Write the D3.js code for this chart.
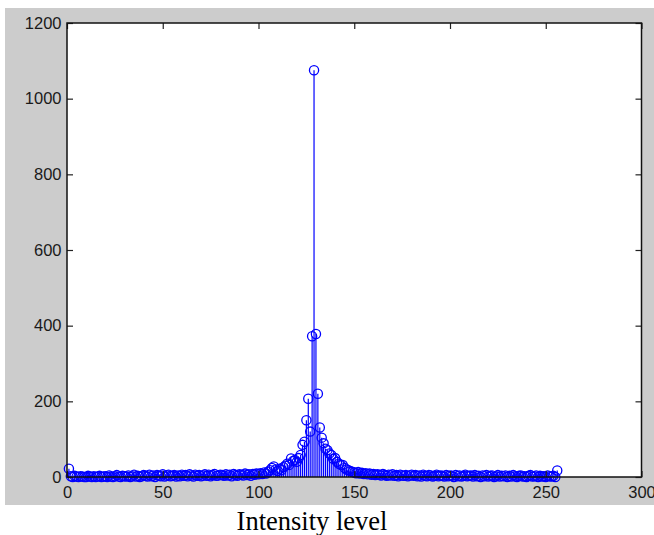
<!DOCTYPE html>
<html>
<head>
<meta charset="utf-8">
<script src="https://cdn.jsdelivr.net/npm/d3@7"></script>
<style>
  html, body { margin: 0; padding: 0; background: #ffffff; }
  svg { display: block; }
</style>
</head>
<body>
<svg id="chart" width="654" height="535"></svg>
<script>
// ---- data ----
const xTicks = [0, 50, 100, 150, 200, 250, 300];
const yTicks = [0, 200, 400, 600, 800, 1000, 1200];
const xLabel = "Intensity level";
// histogram counts for intensity levels 1..256
const countsLow = [ // 1..100
  22, 2, 0, 3, 1, 0, 2, 1, 0, 0, 3, 1, 0, 2, 0, 1, 3, 0, 1, 2,
  0, 4, 1, 0, 2, 5, 1, 0, 3, 2, 1, 4, 0, 2, 6, 1, 3, 0, 2, 5,
  3, 1, 6, 2, 4, 0, 5, 3, 2, 7, 1, 4, 6, 2, 3, 5, 1, 4, 2, 6,
  3, 5, 2, 7, 4, 1, 6, 3, 5, 2, 4, 7, 3, 6, 2, 5, 8, 3, 4, 6,
  5, 3, 7, 4, 6, 2, 8, 5, 3, 7, 6, 4, 9, 5, 7, 3, 8, 6, 9, 7
];
const countsMid = [ // 101..148
  10, 8, 12, 9, 14, 18, 24, 28, 20, 16, 22, 18, 26, 30, 35, 32,
  49, 42, 45, 40, 50, 58, 85, 93, 150, 207, 120, 372, 1075, 378, 220, 131,
  104, 89, 75, 71, 62, 58, 48, 50, 40, 35, 32, 32, 24, 20, 18, 15
];
const countsHigh = [ // 149..256
  14, 12, 10, 13, 9, 11, 8, 10, 7, 9, 6, 8, 5, 7, 6, 4, 8, 5, 3, 6, 4, 7, 3, 5, 2, 6, 4, 3, 5, 2, 4, 6,
  3, 5, 2, 4, 1, 6, 3, 2, 5, 4, 1, 3, 6, 2, 4, 3, 1, 5, 2, 4, 3, 0, 5, 2, 4, 1, 3, 6, 2, 3, 4, 1, 5, 2, 3, 0, 4, 2, 5, 1,
  3, 4, 0, 2, 5, 1, 3, 2, 4, 0, 3, 1, 5, 2, 0, 3, 4, 1, 2, 0, 3, 5, 1, 2, 4, 0, 3, 1, 2, 0, 4, 2, 1, 3, 0, 17
];
const counts = countsLow.concat(countsMid, countsHigh);
const levels = counts.map((_, i) => i + 1);

// ---- layout ----
const W = 654, H = 535;
const fig = { x: 5, y: 8, w: 649, h: 497 };
const ax = { left: 67, right: 641.5, top: 23, bottom: 477 };

const svg = d3.select("#chart");
svg.append("rect").attr("x", 0).attr("y", 0).attr("width", W).attr("height", H).attr("fill", "#ffffff");
svg.append("rect").attr("x", fig.x).attr("y", fig.y).attr("width", fig.w).attr("height", fig.h).attr("fill", "#cccccc");
svg.append("rect").attr("x", ax.left).attr("y", ax.top)
  .attr("width", ax.right - ax.left).attr("height", ax.bottom - ax.top).attr("fill", "#ffffff");

const x = d3.scaleLinear().domain([0, 300]).range([ax.left, ax.right]);
const y = d3.scaleLinear().domain([0, 1200]).range([ax.bottom, ax.top]);

const blue = "#0000ff";
const marks = svg.append("g");
marks.selectAll("line.stem").data(levels).join("line")
  .attr("class", "stem")
  .attr("x1", d => x(d)).attr("x2", d => x(d))
  .attr("y1", y(0)).attr("y2", (d, i) => y(counts[i]))
  .attr("stroke", blue).attr("stroke-width", 1.2);
marks.selectAll("circle").data(levels).join("circle")
  .attr("cx", d => x(d)).attr("cy", (d, i) => y(counts[i]))
  .attr("r", 4.6).attr("fill", "none").attr("stroke", blue).attr("stroke-width", 1.3);

// axes (ticks inward on all four sides)
const tickFont = "'Liberation Sans', Arial, sans-serif";
function styleAxis(g, showLabels) {
  g.select(".domain").remove();
  g.selectAll(".tick line").attr("stroke", "#222").attr("stroke-width", 1.2);
  g.selectAll(".tick text")
    .attr("fill", "#1a1a1a")
    .style("font-family", tickFont).style("font-size", "16.5px");
  if (!showLabels) g.selectAll(".tick text").remove();
}
svg.append("g").attr("transform", `translate(0,${ax.bottom})`)
  .call(d3.axisBottom(x).tickValues(xTicks).tickFormat(d3.format("d")).tickSizeInner(-6).tickSizeOuter(0).tickPadding(9))
  .call(g => styleAxis(g, true));
svg.append("g").attr("transform", `translate(0,${ax.top})`)
  .call(d3.axisTop(x).tickValues(xTicks).tickSizeInner(-6).tickSizeOuter(0))
  .call(g => styleAxis(g, false));
svg.append("g").attr("transform", `translate(${ax.left},0)`)
  .call(d3.axisLeft(y).tickValues(yTicks).tickFormat(d3.format("d")).tickSizeInner(-6).tickSizeOuter(0).tickPadding(5.5))
  .call(g => styleAxis(g, true));
svg.append("g").attr("transform", `translate(${ax.right},0)`)
  .call(d3.axisRight(y).tickValues(yTicks).tickSizeInner(-6).tickSizeOuter(0))
  .call(g => styleAxis(g, false));

// box
svg.append("rect").attr("x", ax.left).attr("y", ax.top)
  .attr("width", ax.right - ax.left).attr("height", ax.bottom - ax.top)
  .attr("fill", "none").attr("stroke", "#111").attr("stroke-width", 1.5);

// x label
svg.append("text")
  .attr("x", 312).attr("y", 530)
  .attr("text-anchor", "middle")
  .style("font-family", "'Liberation Serif', 'Times New Roman', serif")
  .style("font-size", "26.5px")
  .attr("fill", "#000")
  .text(xLabel);
</script>
</body>
</html>
